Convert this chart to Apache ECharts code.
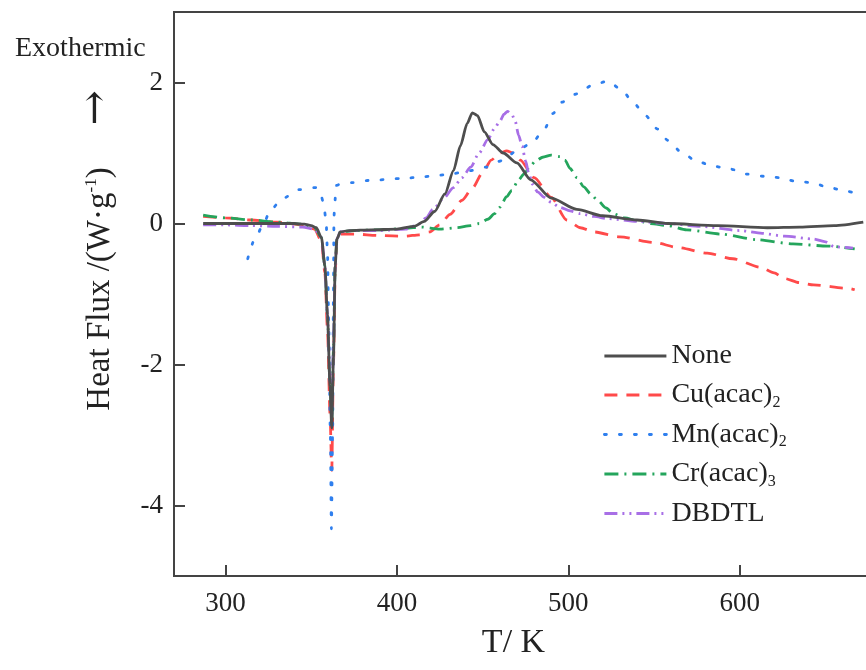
<!DOCTYPE html>
<html>
<head>
<meta charset="utf-8">
<script src="https://cdn.jsdelivr.net/npm/echarts@6/dist/echarts.min.js"></script>
<style>
  html, body { margin: 0; padding: 0; background: #fff; overflow: hidden; }
  /* the plot frame runs past the right edge of the window, as in the source figure */
  #chart { width: 877px; height: 670px; }
</style>
</head>
<body>
<div id="chart"></div>
<script>
// tick labels
const xTicks = [300, 400, 500, 600];
const yTicks = [-4, -2, 0, 2];

const seriesNames = ['None', 'Cu(acac)2', 'Mn(acac)2', 'Cr(acac)3', 'DBDTL'];

// None
const tNone = [287, 300, 320, 340, 346, 350, 353, 356, 358, 359.5, 361, 362, 363, 364, 365, 367, 372, 385, 400, 410, 416, 422, 428, 433, 437, 441, 444, 447, 451, 456, 462, 470, 478, 490, 505, 520, 540, 558, 587, 616, 635, 655, 672];
const hfNone = [0.0, 0.0, 0.0, 0.0, -0.01, -0.03, -0.06, -0.2, -0.6, -1.3, -2.3, -2.9, -1.9, -0.6, -0.22, -0.12, -0.1, -0.09, -0.08, -0.04, 0.03, 0.17, 0.42, 0.75, 1.1, 1.42, 1.57, 1.53, 1.3, 1.12, 1.0, 0.86, 0.62, 0.36, 0.2, 0.11, 0.05, 0.0, -0.03, -0.06, -0.05, -0.03, 0.02];

// Cu(acac)2
const tCu = [287, 300, 315, 330, 345, 352, 356, 358, 359.5, 361, 362, 363, 364, 365, 367, 375, 390, 405, 413, 419, 425, 431, 438, 444, 450, 455, 460, 464, 468, 472, 480, 490, 499, 507, 515, 530, 550, 564, 581, 596, 612, 620, 626, 635, 643, 663, 667];
const hfCu = [0.1, 0.08, 0.05, 0.02, -0.02, -0.08, -0.25, -0.7, -1.5, -2.7, -3.5, -2.0, -0.7, -0.25, -0.15, -0.15, -0.17, -0.18, -0.16, -0.12, -0.02, 0.13, 0.33, 0.5, 0.72, 0.9, 1.0, 1.03, 1.0, 0.9, 0.65, 0.37, 0.05, -0.06, -0.12, -0.19, -0.27, -0.34, -0.42, -0.5, -0.62, -0.7, -0.78, -0.84, -0.87, -0.92, -0.94];

// Mn(acac)2
const tMn = [313, 317, 322, 326, 333, 343, 353, 355.5, 357.2, 358.7, 359.5, 360.3, 361.2, 361.8, 362.5, 363, 363.3, 363.8, 364.6, 368, 374, 383, 404, 414, 423, 433, 443, 452, 461, 470, 479, 486, 491, 496, 505, 514, 523, 531, 538, 545, 552, 558, 566, 575, 585, 595, 604, 614, 624, 632, 642, 652, 662, 666];
const hfMn = [-0.5, -0.23, -0.02, 0.18, 0.35, 0.48, 0.51, 0.42, 0.29, 0.04, -0.4, -1.5, -3.0, -4.33, -3.0, -1.0, 0.1, 0.3, 0.54, 0.57, 0.58, 0.61, 0.64, 0.66, 0.68, 0.71, 0.75, 0.8, 0.89, 1.03, 1.15, 1.34, 1.56, 1.72, 1.84, 1.96, 2.02, 1.9, 1.71, 1.53, 1.34, 1.18, 1.01, 0.88, 0.81, 0.77, 0.7, 0.67, 0.65, 0.6, 0.58, 0.51, 0.46, 0.44];

// Cr(acac)3
const tCr = [287, 300, 315, 330, 345, 352, 356, 358, 359.5, 361, 362, 363, 364, 365, 367, 375, 390, 405, 414, 425, 435, 443, 448, 453, 457, 460, 464, 467, 471, 474, 478, 481, 485, 490, 495, 498, 501, 505, 509, 513, 517, 522, 526, 533, 540, 548, 558, 569, 589, 610, 631, 651, 667];
const hfCr = [0.12, 0.08, 0.05, 0.02, -0.01, -0.06, -0.2, -0.6, -1.3, -2.3, -2.8, -1.8, -0.6, -0.22, -0.12, -0.1, -0.09, -0.07, -0.05, -0.08, -0.06, -0.03, 0.0, 0.06, 0.14, 0.23, 0.38, 0.47, 0.62, 0.7, 0.82, 0.89, 0.94, 0.97, 0.95, 0.9, 0.78, 0.65, 0.52, 0.42, 0.33, 0.22, 0.14, 0.08, 0.04, 0.0, -0.03, -0.09, -0.15, -0.23, -0.29, -0.32, -0.36];

// DBDTL
const tDb = [287, 300, 315, 330, 345, 352, 356, 358, 359.5, 361, 362, 363, 364, 365, 367, 375, 390, 405, 412, 417, 421, 427, 433, 438, 443, 448, 453, 457, 460, 462.5, 464.5, 467, 469, 471, 473, 475, 477, 479, 482, 486, 490, 495, 501, 507, 515, 523, 540, 558, 577, 600, 613, 626, 643, 650, 655, 666];
const hfDb = [-0.02, -0.02, -0.03, -0.04, -0.05, -0.08, -0.2, -0.6, -1.3, -2.2, -2.75, -1.7, -0.6, -0.22, -0.12, -0.1, -0.1, -0.08, -0.02, 0.08, 0.2, 0.35, 0.51, 0.65, 0.8, 1.0, 1.19, 1.35, 1.45, 1.55, 1.59, 1.55, 1.45, 1.25, 1.1, 0.89, 0.7, 0.56, 0.45, 0.37, 0.3, 0.23, 0.18, 0.14, 0.1, 0.07, 0.03, 0.0, -0.04, -0.1, -0.14, -0.18, -0.22, -0.26, -0.33, -0.35];

const colors = ['#4e4e4e', '#ff4a4a', '#2f7fee', '#24a55c', '#a86fe6'];
const dashes = ['solid', [13, 9], [2, 13], [14, 6, 2, 6], [13, 5, 2, 5, 2, 5]];
const fontFamily = '"Liberation Serif", "Times New Roman", serif';

function zip(xs, ys) {
  return xs.map((x, i) => [x, ys[i]]);
}

const allData = [zip(tNone, hfNone), zip(tCu, hfCu), zip(tMn, hfMn), zip(tCr, hfCr), zip(tDb, hfDb)];

const chart = echarts.init(document.getElementById('chart'), null, { renderer: 'canvas' });

const option = {
  animation: false,
  backgroundColor: '#fff',
  textStyle: { fontFamily: fontFamily, color: '#222' },
  grid: {
    left: 174,
    right: 0,
    top: 12,
    bottom: 94,
    show: true,
    borderColor: '#444',
    borderWidth: 2,
  },
  xAxis: {
    type: 'value',
    min: 270,
    max: 680,
    name: 'T/ K',
    nameLocation: 'middle',
    nameGap: 50,
    nameTextStyle: { fontSize: 34, fontFamily: fontFamily, color: '#222', padding: [0, 24, 0, 0] },
    axisLine: { onZero: false, lineStyle: { color: '#444', width: 2 } },
    axisTick: { inside: true, length: 11, customValues: xTicks, lineStyle: { color: '#444', width: 2 } },
    axisLabel: { customValues: xTicks, fontSize: 27, margin: 14, color: '#222', fontFamily: fontFamily },
    splitLine: { show: false },
  },
  yAxis: {
    type: 'value',
    min: -5,
    max: 3,
    axisLine: { show: true, onZero: false, lineStyle: { color: '#444', width: 2 } },
    axisTick: { show: true, inside: true, length: 11, customValues: yTicks, lineStyle: { color: '#444', width: 2 } },
    axisLabel: { customValues: yTicks, fontSize: 27, margin: 11, color: '#222', fontFamily: fontFamily },
    splitLine: { show: false },
  },
  legend: {
    orient: 'vertical',
    left: 598,
    top: 336,
    itemWidth: 62,
    itemHeight: 14,
    itemGap: 9,
    data: seriesNames,
    itemStyle: { opacity: 0 },
    lineStyle: { width: 2.8 },
    formatter: (name) => name.replace(/(\d)$/, '{sub|$1}'),
    textStyle: {
      fontSize: 28,
      lineHeight: 30,
      color: '#222',
      fontFamily: fontFamily,
      rich: {
        sub: { fontSize: 16, padding: [15, 0, 0, 0], fontFamily: fontFamily, color: '#222' },
      },
    },
  },
  graphic: [
    {
      type: 'text',
      left: 15,
      top: 35,
      style: { text: 'Exothermic', font: '28px ' + fontFamily, fill: '#222' },
    },
    {
      type: 'text',
      x: 100,
      y: 289,
      rotation: Math.PI / 2,
      style: {
        text: 'Heat Flux /(W·g{sup|-1})',
        fontSize: 33,
        fontFamily: fontFamily,
        fill: '#222',
        align: 'center',
        verticalAlign: 'middle',
        rich: {
          sup: { fontSize: 17, padding: [0, 0, 16, 0], fontFamily: fontFamily, fill: '#222' },
        },
      },
    },
    {
      type: 'text',
      x: 97,
      y: 108,
      rotation: Math.PI / 2,
      style: {
        text: '→',
        fontSize: 42,
        fontFamily: '"DejaVu Serif", serif',
        fill: '#222',
        align: 'center',
        verticalAlign: 'middle',
      },
    },
  ],
  series: seriesNames.map((name, i) => ({
    name: name,
    type: 'line',
    data: allData[i],
    symbol: 'none',
    smooth: 0.25,
    smoothMonotone: 'x',
    lineStyle: { color: colors[i], width: 2.8, type: dashes[i], cap: i === 2 ? 'round' : 'butt' },
    itemStyle: { color: colors[i] },
    z: i === 0 ? 3 : 2,
  })),
};

chart.setOption(option);
</script>
</body>
</html>
